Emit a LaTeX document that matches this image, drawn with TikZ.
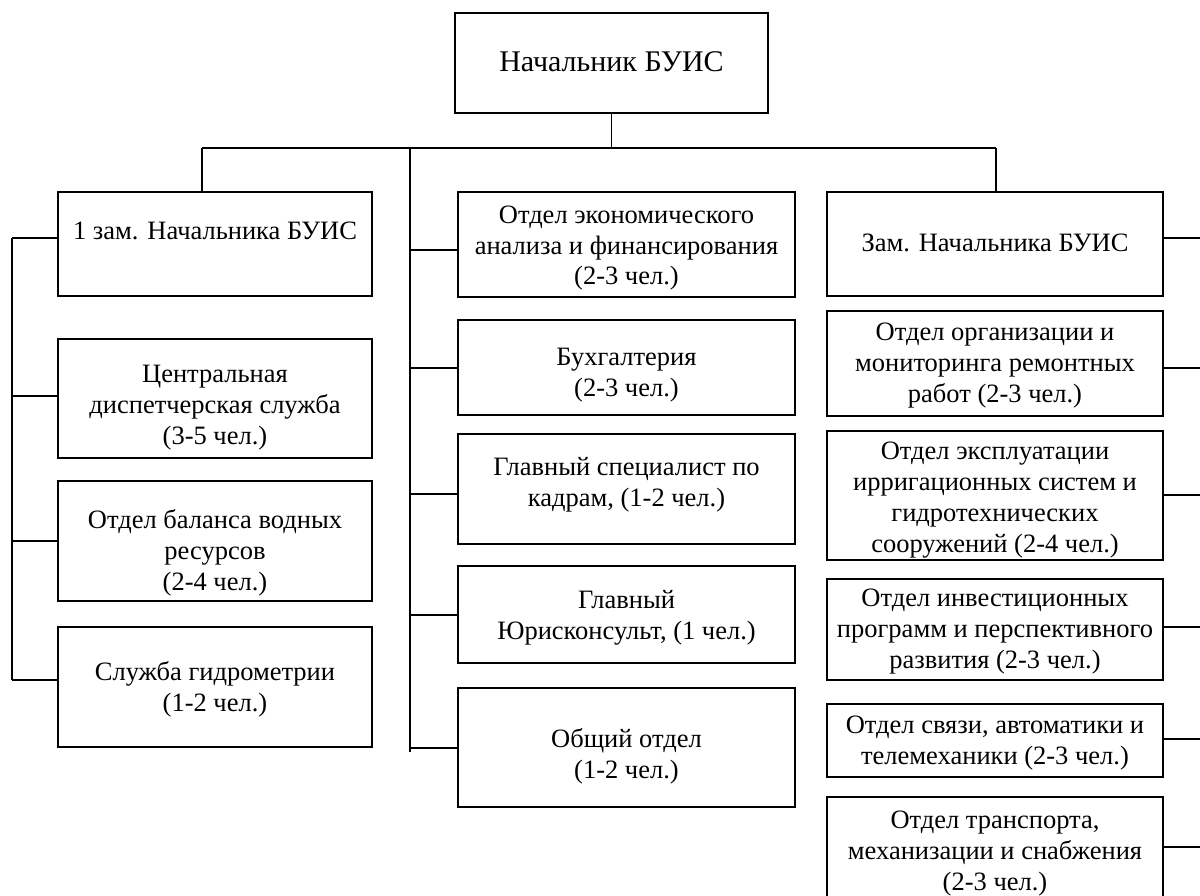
\documentclass[tikz,border=0pt]{standalone}
\usepackage{fontspec}
\setmainfont{Liberation Serif}
\begin{document}
\begin{tikzpicture}[x=1pt,y=-1pt,
  box/.style={draw, line width=2.2pt, inner sep=0pt, rectangle},
  txt/.style={inner sep=0pt, align=center, font=\fontsize{26.5}{31}\selectfont},
  link/.style={line width=1.6pt}]
\useasboundingbox (0,0) rectangle (1200,896);
\clip (0,0) rectangle (1200,896);

% head of the office
\node[box, minimum width=313pt, minimum height=100pt] (top) at (611.5,63) {};
\node[txt, font=\fontsize{30}{35}\selectfont] (topt) at (611.5,64.7) {\strut Начальник БУИС};

% left column: first deputy and his services
\node[box, minimum width=314pt, minimum height=104pt] (L1) at (215,244) {};
\node[txt] (L1t) at (215,233.8) {\strut 1 зам. Начальника БУИС};
\node[box, minimum width=314pt, minimum height=119pt] (L2) at (215,398.5) {};
\node[txt] (L2t) at (215,406.8) {\strut Центральная\\\strut диспетчерская служба\\\strut (3-5 чел.)};
\node[box, minimum width=314pt, minimum height=120pt] (L3) at (215,541) {};
\node[txt] (L3t) at (215,552.8) {\strut Отдел баланса водных\\\strut ресурсов\\\strut (2-4 чел.)};
\node[box, minimum width=314pt, minimum height=120pt] (L4) at (215,687) {};
\node[txt] (L4t) at (215,689.3) {\strut Служба гидрометрии\\\strut (1-2 чел.)};

% middle column: units reporting to the head directly
\node[box, minimum width=337pt, minimum height=105pt] (M1) at (626.5,244.5) {};
\node[txt] (M1t) at (626.5,247.8) {\strut Отдел экономического\\\strut анализа и финансирования\\\strut (2-3 чел.)};
\node[box, minimum width=337pt, minimum height=95pt] (M2) at (626.5,367.5) {};
\node[txt] (M2t) at (626.5,374.3) {\strut Бухгалтерия\\\strut (2-3 чел.)};
\node[box, minimum width=337pt, minimum height=110pt] (M3) at (626.5,489) {};
\node[txt] (M3t) at (626.5,484.3) {\strut Главный специалист по\\\strut кадрам, (1-2 чел.)};
\node[box, minimum width=337pt, minimum height=97pt] (M4) at (626.5,614.5) {};
\node[txt] (M4t) at (626.5,617.3) {\strut Главный\\\strut Юрисконсульт, (1 чел.)};
\node[box, minimum width=337pt, minimum height=119pt] (M5) at (626.5,747.5) {};
\node[txt] (M5t) at (626.5,756.3) {\strut Общий отдел\\\strut (1-2 чел.)};

% right column: deputy and his departments
\node[box, minimum width=336pt, minimum height=104pt] (R1) at (995,244) {};
\node[txt] (R1t) at (995,245.8) {\strut Зам. Начальника БУИС};
\node[box, minimum width=336pt, minimum height=105pt] (R2) at (995,363.5) {};
\node[txt] (R2t) at (995,364.8) {\strut Отдел организации и\\\strut мониторинга ремонтных\\\strut работ (2-3 чел.)};
\node[box, minimum width=336pt, minimum height=129pt] (R3) at (995,495.5) {};
\node[txt] (R3t) at (995,499.3) {\strut Отдел эксплуатации\\\strut ирригационных систем и\\\strut гидротехнических\\\strut сооружений (2-4 чел.)};
\node[box, minimum width=336pt, minimum height=101pt] (R4) at (995,629.5) {};
\node[txt] (R4t) at (995,631.5) {\strut Отдел инвестиционных\\\strut программ и перспективного\\\strut развития (2-3 чел.)};
\node[box, minimum width=336pt, minimum height=73pt] (R5) at (995,740.5) {};
\node[txt] (R5t) at (995,742.6) {\strut Отдел связи, автоматики и\\\strut телемеханики (2-3 чел.)};
\node[box, minimum width=336pt, minimum height=113pt] (R6) at (995,853.5) {};
\node[txt] (R6t) at (995,853.5) {\strut Отдел транспорта,\\\strut механизации и снабжения\\\strut (2-3 чел.)};

% bus and trunk points
\coordinate (bus) at (611.5,148);
\coordinate (busL) at (202,148);
\coordinate (busR) at (996,148);
\coordinate (midtop) at (410,148);
\coordinate (midend) at (410,752);
\coordinate (ltop) at (12,238);
\coordinate (lend) at (12,680);
\coordinate (redge) at (1200,0);

% connectors
\draw[link] (top.south) -- (bus);
\draw[link] (busL) -- (busR);
\draw[link] (busL) -- (busL |- L1.north);
\draw[link] (busR) -- (busR |- R1.north);
\draw[link] (midtop) -- (midend);
\draw[link] (midtop |- 0,250) -- (M1.west |- 0,250);
\draw[link] (midtop |- 0,368) -- (M2.west |- 0,368);
\draw[link] (midtop |- 0,494) -- (M3.west |- 0,494);
\draw[link] (midtop |- 0,615) -- (M4.west |- 0,615);
\draw[link] (midtop |- 0,748) -- (M5.west |- 0,748);

\draw[link] (ltop) -- (lend);
\draw[link] (ltop) -- (L1.west |- ltop);
\draw[link] (ltop |- 0,396) -- (L2.west |- 0,396);
\draw[link] (ltop |- 0,541) -- (L3.west |- 0,541);
\draw[link] (lend) -- (L4.west |- lend);

\draw[link] (R1.east |- 0,238) -- (redge |- 0,238);
\draw[link] (R2.east |- 0,368) -- (redge |- 0,368);
\draw[link] (R3.east |- 0,495) -- (redge |- 0,495);
\draw[link] (R4.east |- 0,627) -- (redge |- 0,627);
\draw[link] (R5.east |- 0,739) -- (redge |- 0,739);
\draw[link] (R6.east |- 0,847) -- (redge |- 0,847);
\end{tikzpicture}
\end{document}
